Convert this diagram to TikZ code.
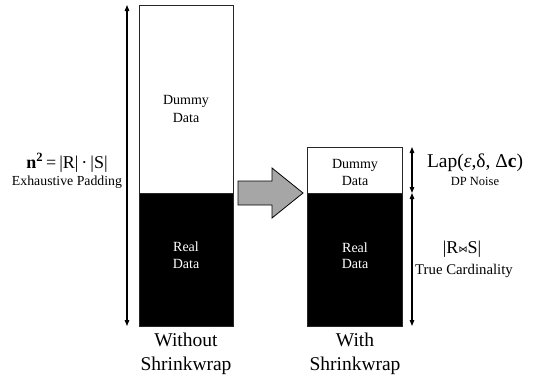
\documentclass[tikz,border=0pt]{standalone}
\usepackage{fontspec}
\setmainfont{Liberation Serif}
\newfontfamily\symfont{DejaVu Sans}
\usetikzlibrary{arrows.meta}
\begin{document}
\begin{tikzpicture}[x=1pt,y=-1pt,
  part/.style={draw=black!85, line width=0.8pt, inner sep=0pt, outer sep=0pt, anchor=north west},
  dummypart/.style={part, fill=white},
  realpart/.style={part, fill=black},
  lbl/.style={inner sep=0pt, anchor=base, font=\fontsize{14}{16}\selectfont},
  wlbl/.style={lbl, text=white},
  captext/.style={inner sep=0pt, anchor=base, font=\fontsize{19.5}{23}\selectfont},
  small/.style={inner sep=0pt, anchor=base, font=\fontsize{14}{16}\selectfont},
  dim/.style={line width=1.2pt, {Triangle[length=6pt,width=4.5pt]}-{Triangle[length=6pt,width=4.5pt]}},
  bigarrow/.style={draw=black, line width=0.8pt, fill=black!35, line join=miter}]
\useasboundingbox (0,0) rectangle (538,375);

% left column (without shrinkwrap)
\node[dummypart, minimum width=94pt, minimum height=188pt] (ldummy) at (139,5) {};
\node[realpart, minimum width=94pt, minimum height=133pt] (lreal) at (139,193) {};
\node[lbl] (ld1) at (186,104) {Dummy};
\node[lbl] (ld2) at (186,122) {Data};
\node[wlbl] (lr1) at (186,251) {Real};
\node[wlbl] (lr2) at (186,268) {Data};
\node[captext] (lc1) at (186,346) {Without};
\node[captext] (lc2) at (186,370) {Shrinkwrap};

% right column (with shrinkwrap)
\node[dummypart, minimum width=95pt, minimum height=46pt] (rdummy) at (307,147) {};
\node[realpart, minimum width=95pt, minimum height=133pt] (rreal) at (307,193) {};
\node[lbl] (rd1) at (355,168) {Dummy};
\node[lbl] (rd2) at (355,185) {Data};
\node[wlbl] (rr1) at (355,252) {Real};
\node[wlbl] (rr2) at (355,268) {Data};
\node[captext] (rc1) at (355,346) {With};
\node[captext] (rc2) at (355,370) {Shrinkwrap};

% dimension arrows
\coordinate (la) at (127,5);
\coordinate (lb) at (127,326);
\draw[dim] (la) -- (lb);
\coordinate (ra) at (412,147);
\coordinate (rb) at (412,193);
\coordinate (rc) at (412,326);
\draw[dim] (ra) -- (rb);
\draw[dim] (rb) -- (rc);

% labels of dimensions
\node[inner sep=0pt, anchor=base, font=\fontsize{18}{20}\selectfont] (nform) at (67,168)
  {\textbf{n\textsuperscript{2}}\,=\,|R|\,·\,|S|};
\node[small, font=\fontsize{13.8}{16}\selectfont] (npad) at (67,185) {Exhaustive Padding};
\node[inner sep=0pt, anchor=base, font=\fontsize{19.5}{23}\selectfont] (lap) at (475,167)
  {Lap(\textit{ε},δ, Δ\textbf{c})};
\node[small, font=\fontsize{12.5}{14}\selectfont] (dpn) at (475,185) {DP Noise};
\node[inner sep=0pt, anchor=base, font=\fontsize{18}{20}\selectfont] (card) at (462,253)
  {|R\raisebox{0.5pt}{\symfont\fontsize{9}{10}\selectfont ⋈}S|};
\node[small, font=\fontsize{14.8}{16}\selectfont] (tcard) at (464,274) {True Cardinality};

% big gray arrow
\draw[bigarrow] (238,181) -- (272,181) -- (272,168) -- (303,193) -- (272,218) -- (272,205) -- (238,205) -- cycle;
\end{tikzpicture}
\end{document}
